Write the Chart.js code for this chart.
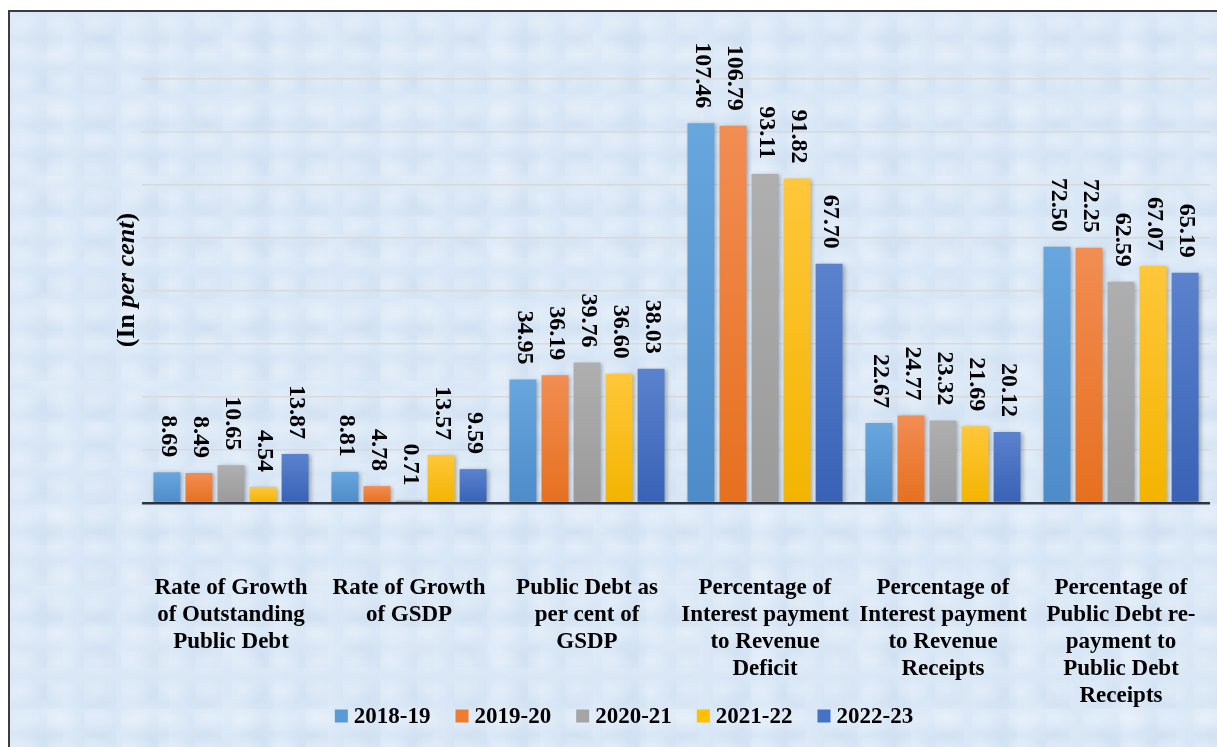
<!DOCTYPE html>
<html>
<head>
<meta charset="utf-8">
<script src="https://cdn.jsdelivr.net/npm/chart.js@4.4.1/dist/chart.umd.min.js"></script>
<style>
  html, body { margin: 0; padding: 0; background: #fff; overflow: hidden; }
  #frame {
    position: absolute; left: 8px; top: 10px; width: 1225px; height: 755px;
    border: 2px solid #3c3c3c;
    background-color: #d9e7f6;
    background-image:
      radial-gradient(ellipse at 30% 40%, rgba(255,255,255,0.28), rgba(255,255,255,0) 60%),
      radial-gradient(ellipse at 70% 70%, rgba(185,205,230,0.25), rgba(185,205,230,0) 55%),
      radial-gradient(ellipse at 50% 50%, rgba(242,247,253,0.3), rgba(242,247,253,0) 50%);
    background-size: 37px 29px, 53px 41px, 89px 67px;
  }
  #wrap { position: absolute; left: 0; top: 0; width: 1217px; height: 747px; }
</style>
</head>
<body>
<div id="frame"></div>
<div id="wrap"><canvas id="chart"></canvas></div>
<script>
// dane
const categories = [
  ['Rate of Growth', 'of Outstanding', 'Public Debt'],
  ['Rate of Growth', 'of GSDP'],
  ['Public Debt as', 'per cent of', 'GSDP'],
  ['Percentage of', 'Interest payment', 'to Revenue', 'Deficit'],
  ['Percentage of', 'Interest payment', 'to Revenue', 'Receipts'],
  ['Percentage of', 'Public Debt re-', 'payment to', 'Public Debt', 'Receipts']
];
const years = ['2018-19', '2019-20', '2020-21', '2021-22', '2022-23'];
const y2018 = [8.69, 8.81, 34.95, 107.46, 22.67, 72.50];
const y2019 = [8.49, 4.78, 36.19, 106.79, 24.77, 72.25];
const y2020 = [10.65, 0.71, 39.76, 93.11, 23.32, 62.59];
const y2021 = [4.54, 13.57, 36.60, 91.82, 21.69, 67.07];
const y2022 = [13.87, 9.59, 38.03, 67.70, 20.12, 65.19];
const yMin = 0, yMax = 120, yStep = 15;

const FONT = '"Liberation Serif", "Times New Roman", serif';

// base, top, bottom
const palette = [
  ['#5b9bd5', '#68a6de', '#4d8cc9'],
  ['#ed7d31', '#f28d53', '#e6701f'],
  ['#a5a5a5', '#afafaf', '#9a9a9a'],
  ['#ffc000', '#ffc73a', '#f3b400'],
  ['#4472c4', '#5a82cd', '#3962b6']
];

function barFill(i) {
  return (c) => {
    const col = palette[i];
    const chart = c.chart;
    if (c.type !== 'data' || !chart.chartArea) return col[0];
    const ys = chart.scales.y;
    const top = ys.getPixelForValue(c.raw);
    const bot = ys.getPixelForValue(0);
    if (!isFinite(top) || Math.abs(bot - top) < 1) return col[0];
    const g = chart.ctx.createLinearGradient(0, top, 0, bot);
    g.addColorStop(0, col[1]);
    g.addColorStop(1, col[2]);
    return g;
  };
}

const series = [y2018, y2019, y2020, y2021, y2022];

// cień słupków
const barShadow = {
  id: 'barShadow',
  beforeDatasetsDraw(chart) {
    const ctx = chart.ctx;
    ctx.save();
    ctx.shadowColor = 'rgba(0,0,0,0.28)';
    ctx.shadowBlur = 4;
    ctx.shadowOffsetX = 2;
    ctx.shadowOffsetY = 1;
  },
  afterDatasetsDraw(chart) {
    chart.ctx.restore();
  }
};

// etykiety wartości (pionowe)
const valueLabels = {
  id: 'valueLabels',
  afterDatasetsDraw(chart) {
    const ctx = chart.ctx;
    ctx.save();
    ctx.font = 'bold 24px ' + FONT;
    ctx.fillStyle = '#000';
    ctx.textAlign = 'right';
    ctx.textBaseline = 'middle';
    chart.data.datasets.forEach((ds, i) => {
      chart.getDatasetMeta(i).data.forEach((bar, j) => {
        ctx.save();
        ctx.translate(bar.x + 1, bar.y - 15);
        ctx.rotate(Math.PI / 2);
        ctx.fillText(ds.data[j].toFixed(2), 0, 0);
        ctx.restore();
      });
    });
    ctx.restore();
  }
};

// tytuł osi Y: (In per cent)
const axisTitle = {
  id: 'axisTitle',
  afterDraw(chart) {
    const ctx = chart.ctx;
    const area = chart.chartArea;
    const parts = [['(In ', 'bold'], ['per cent', 'italic bold'], [')', 'bold']];
    ctx.save();
    ctx.translate(area.left - 15, (area.top + area.bottom) / 2 - 11);
    ctx.rotate(-Math.PI / 2);
    ctx.textBaseline = 'middle';
    ctx.textAlign = 'left';
    ctx.fillStyle = '#000';
    let total = 0;
    parts.forEach(p => { ctx.font = p[1] + ' 26px ' + FONT; total += ctx.measureText(p[0]).width; });
    let x = -total / 2;
    parts.forEach(p => {
      ctx.font = p[1] + ' 26px ' + FONT;
      ctx.fillText(p[0], x, 0);
      x += ctx.measureText(p[0]).width;
    });
    ctx.restore();
  }
};

// legenda rysowana ręcznie (pod etykietami kategorii)
const bottomLegend = {
  id: 'bottomLegend',
  afterDraw(chart) {
    const ctx = chart.ctx;
    const area = chart.chartArea;
    const box = 13, gapText = 6, gapItem = 25;
    ctx.save();
    ctx.font = 'bold 23px ' + FONT;
    ctx.textBaseline = 'middle';
    ctx.textAlign = 'left';
    const widths = chart.data.datasets.map(ds => ctx.measureText(ds.label).width);
    const total = widths.reduce((a, w) => a + box + gapText + w, 0) + gapItem * (widths.length - 1);
    const cx = (area.left - 104 + area.right) / 2;
    const cy = 716;
    let x = cx - total / 2;
    chart.data.datasets.forEach((ds, i) => {
      ctx.fillStyle = palette[i][0];
      ctx.fillRect(x, cy - box / 2, box, box);
      ctx.fillStyle = '#000';
      ctx.fillText(ds.label, x + box + gapText, cy + 1);
      x += box + gapText + widths[i] + gapItem;
    });
    ctx.restore();
  }
};

const ctx = document.getElementById('chart').getContext('2d');
new Chart(ctx, {
  type: 'bar',
  data: {
    labels: categories,
    datasets: years.map((y, i) => ({
      label: y,
      data: series[i],
      backgroundColor: barFill(i),
      borderWidth: 0,
      categoryPercentage: 0.9,
      barPercentage: 0.84
    }))
  },
  options: {
    responsive: true,
    maintainAspectRatio: false,
    animation: false,
    layout: { padding: { top: 79, left: 38, right: 7, bottom: 0 } },
    plugins: {
      legend: { display: false },
      tooltip: { enabled: false },
      title: { display: false }
    },
    scales: {
      x: {
        clip: false,
        grid: { display: false, drawTicks: false },
        border: { display: false },
        ticks: {
          color: '#000',
          font: { family: FONT, size: 23, weight: 'bold', lineHeight: '27px' },
          padding: 72,
          maxRotation: 0,
          minRotation: 0,
          autoSkip: false
        },
        afterFit(s) {
          s.height = 244;
          s.paddingLeft = 0;
          s.paddingRight = 0;
        }
      },
      y: {
        min: yMin,
        max: yMax,
        ticks: { stepSize: yStep, display: false },
        grid: {
          drawTicks: false,
          color: c => (c.tick && c.tick.value === 0 ? '#2e3542' : '#d9d9d9'),
          lineWidth: c => (c.tick && c.tick.value === 0 ? 2.5 : 1.5)
        },
        border: { display: false },
        afterFit(s) { s.width = 104; }
      }
    }
  },
  plugins: [barShadow, valueLabels, axisTitle, bottomLegend]
});
</script>
</body>
</html>
